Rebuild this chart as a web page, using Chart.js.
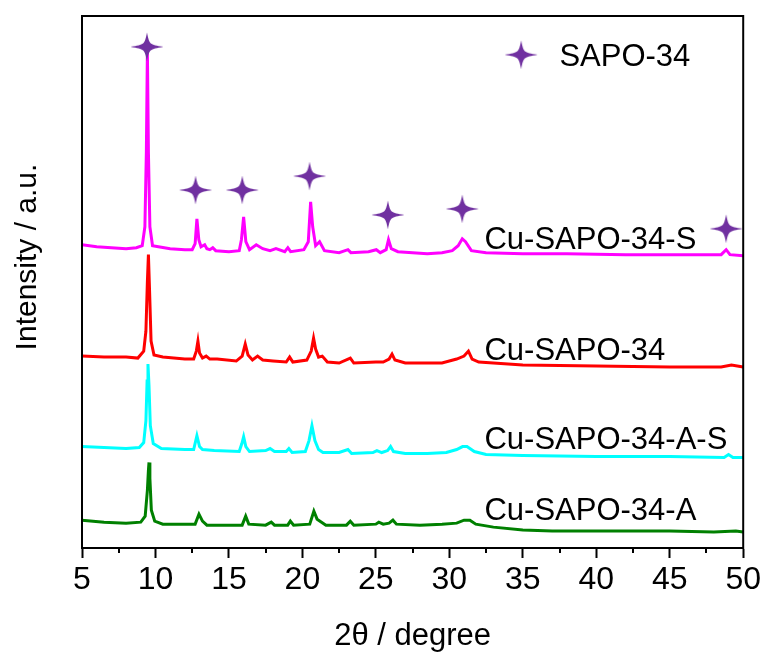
<!DOCTYPE html>
<html>
<head>
<meta charset="utf-8">
<script src="https://cdn.jsdelivr.net/npm/chart.js@4.4.1/dist/chart.umd.min.js"></script>
<style>
  html, body { margin: 0; padding: 0; background: #fff; }
  canvas { display: block; }
</style>
</head>
<body>
<canvas id="xrd" width="764" height="657"></canvas>
<script>
// XRD patterns, stacked with an offset (intensity in a.u.)
const seriesNames = ["Cu-SAPO-34-S", "Cu-SAPO-34", "Cu-SAPO-34-A-S", "Cu-SAPO-34-A"];
const seriesColors = ["#ff00ff", "#ff0000", "#00ffff", "#008000"];

const thetaS = [5, 6, 7, 8, 8.7, 9.1, 9.28, 9.38, 9.45, 9.52, 9.62, 9.8, 10.2, 11, 12, 12.5, 12.7, 12.82, 12.95, 13.1,
  13.35, 13.5, 13.7, 13.9, 14.1, 15, 15.7, 15.85, 16.0, 16.15, 16.4, 16.86, 17.3, 17.8, 18.2, 18.8, 19.01, 19.2, 20.1, 20.4,
  20.56, 20.7, 20.9, 21.17, 21.5, 22.5, 23.1, 23.3, 24.5, 25.03, 25.3, 25.7, 25.86, 26.05, 26.5, 27.5, 28.5, 29.5, 30.2, 30.6,
  30.88, 31.1, 31.5, 32.5, 35, 38, 42, 46, 48.5, 48.84, 49.1, 50];
const intensityS = [305, 303, 302, 301, 302, 304, 323, 398, 500, 398, 323, 304, 303, 301, 300, 300, 306, 331, 310, 303,
  305, 301, 300, 302, 299, 298, 299, 310, 333, 308, 300, 305, 301, 299, 301, 298, 302, 298, 300, 308,
  348, 323, 304, 308, 299, 297, 300, 297, 298, 300, 297, 300, 310, 301, 298, 297, 296, 297, 299, 304,
  311, 308, 299, 297, 296, 296, 295, 295, 295, 300, 295, 294];

const theta = [5, 6.5, 8, 8.8, 9.2, 9.35, 9.45, 9.52, 9.6, 9.7, 9.9, 10.5, 12, 12.6, 12.78, 12.89, 13.0, 13.2, 13.45, 13.7,
  14.2, 15.5, 15.9, 16.11, 16.3, 16.6, 16.95, 17.3, 18, 18.9, 19.13, 19.35, 20.3, 20.6, 20.76, 20.9, 21.1, 21.35, 21.7, 22.5,
  23.26, 23.5, 25, 25.5, 25.9, 26.1, 26.3, 27, 28.5, 29.5, 30.5, 31.0, 31.3, 31.55, 32, 33, 35, 40, 45, 48.5, 49.2, 50];
const intensity = [193, 192, 192, 191, 198, 218, 268, 295, 258, 208, 194, 192, 190, 190, 198, 208, 196, 191, 193, 190,
  190, 188, 193, 205, 194, 189, 193, 189, 188, 187, 192, 187, 189, 198, 211, 200, 192, 193, 187, 186,
  191, 186, 187, 187, 190, 195, 189, 186, 186, 186, 190, 193, 198, 190, 187, 186, 184, 183, 182, 182, 184, 182];

const thetaAS = [5, 6.5, 8, 8.9, 9.2, 9.35, 9.43, 9.49, 9.56, 9.65, 9.85, 10.4, 12, 12.6, 12.82, 13.0, 13.2, 14, 15.7, 15.88,
  16.0, 16.15, 16.4, 17.5, 17.8, 18.1, 18.9, 19.08, 19.3, 20.2, 20.45, 20.65, 20.85, 21.1, 21.4, 22.5, 23.1, 23.35, 24.8, 25.07,
  25.4, 25.8, 26.0, 26.2, 27, 28.5, 29.8, 30.5, 30.9, 31.2, 31.7, 32.5, 35, 40, 45, 48.7, 49.0, 49.3, 50];
const intensityAS = [102, 101, 100, 101, 106, 128, 168, 185, 163, 123, 105, 100, 99, 99, 113, 102, 99, 98, 97, 105,
  112, 102, 97, 98, 100, 97, 97, 100, 96, 97, 108, 123, 108, 99, 96, 96, 99, 95, 96, 98,
  96, 98, 102, 97, 95, 95, 96, 99, 102, 102, 97, 94, 93, 92, 92, 91, 94, 91, 91];

const thetaA = [5, 6.5, 8, 9.0, 9.3, 9.45, 9.52, 9.56, 9.62, 9.72, 9.95, 10.5, 12, 12.7, 12.96, 13.2, 13.5, 15.9, 16.14, 16.35,
  17.5, 17.88, 18.1, 19.0, 19.18, 19.4, 20.5, 20.78, 21.0, 21.3, 21.6, 23.0, 23.26, 23.5, 25.0, 25.2, 25.5, 25.9, 26.16, 26.4,
  28, 29.5, 30.5, 31.0, 31.4, 31.8, 33, 35, 37, 40, 45, 48, 49.5, 50];
const intensityA = [28, 26, 25, 26, 32, 58, 78, 86, 70, 38, 27, 24, 24, 24, 34, 27, 23, 23, 32, 24,
  23, 26, 23, 23, 27, 23, 24, 37, 29, 26, 23, 23, 27, 23, 24, 26, 24, 25, 28, 24,
  23, 24, 25, 28, 28, 24, 21, 18, 17, 17, 17, 16, 17, 16];

// SAPO-34 reflection markers
const starTheta = [9.42, 12.73, 15.91, 20.49, 25.82, 30.88, 48.84];
const starIntensity = [504, 360, 360, 374, 335, 341, 321];
const legendName = "SAPO-34";
const legendTheta = [34.89];
const legendIntensity = [496];

const xTicks = [5, 10, 15, 20, 25, 30, 35, 40, 45, 50];
const xMinorTicks = [7.5, 12.5, 17.5, 22.5, 27.5, 32.5, 37.5, 42.5, 47.5];

const FONT = "'Liberation Sans', Arial, sans-serif";
const STAR_COLOR = "#7030a0";

function toPoints(xs, ys) {
  return xs.map((x, i) => ({ x: x, y: ys[i] }));
}

// four-pointed star used as point style
function makeStar(w, h) {
  const c = document.createElement("canvas");
  c.width = w;
  c.height = h;
  const g = c.getContext("2d");
  const cx = w / 2, cy = h / 2;
  const k = 2.4;
  g.fillStyle = STAR_COLOR;
  g.beginPath();
  g.moveTo(cx, 0.5);
  g.bezierCurveTo(cx + k, cy - k, cx + k, cy - k, w - 0.5, cy);
  g.bezierCurveTo(cx + k, cy + k, cx + k, cy + k, cx, h - 0.5);
  g.bezierCurveTo(cx - k, cy + k, cx - k, cy + k, 0.5, cy);
  g.bezierCurveTo(cx - k, cy - k, cx - k, cy - k, cx, 0.5);
  g.closePath();
  g.fill();
  return c;
}
const starImg = makeStar(34, 30);

// label positions (data coords: 2theta, text baseline)
const labelTheta = 32.39;
const labelBase = [301, 189, 100, 28];

const extras = {
  id: "extras",
  afterDraw(chart) {
    const { ctx, chartArea: a, scales: { x, y } } = chart;
    ctx.save();
    // frame on top and right
    ctx.strokeStyle = "#000";
    ctx.lineWidth = 2;
    ctx.strokeRect(a.left, a.top, a.right - a.left, a.bottom - a.top);
    // minor ticks
    ctx.beginPath();
    xMinorTicks.forEach(v => {
      const px = Math.round(x.getPixelForValue(v));
      ctx.moveTo(px, a.bottom);
      ctx.lineTo(px, a.bottom + 5);
    });
    ctx.stroke();
    // sample labels
    ctx.fillStyle = "#000";
    ctx.font = "31px " + FONT;
    ctx.textAlign = "left";
    ctx.textBaseline = "alphabetic";
    seriesNames.forEach((name, i) => {
      ctx.fillText(name, x.getPixelForValue(labelTheta), y.getPixelForValue(labelBase[i]));
    });
    ctx.fillText(legendName, x.getPixelForValue(37.49), y.getPixelForValue(485));
    // y axis title
    ctx.translate(28, 257);
    ctx.rotate(-Math.PI / 2);
    ctx.textAlign = "center";
    ctx.textBaseline = "middle";
    ctx.font = "30px " + FONT;
    ctx.fillText("Intensity / a.u.", 0, 0);
    ctx.restore();
  }
};

const patterns = [
  toPoints(thetaS, intensityS),
  toPoints(theta, intensity),
  toPoints(thetaAS, intensityAS),
  toPoints(thetaA, intensityA)
];

const datasets = patterns.map((pts, i) => ({
  type: "line",
  label: seriesNames[i],
  data: pts,
  borderColor: seriesColors[i],
  borderWidth: 3,
  pointRadius: 0,
  tension: 0,
  order: 2
}));
datasets.push({
  type: "scatter",
  label: legendName,
  data: toPoints(starTheta, starIntensity).concat(toPoints(legendTheta, legendIntensity)),
  pointStyle: starImg,
  pointRadius: 15,
  order: 1
});

new Chart(document.getElementById("xrd"), {
  type: "line",
  data: { datasets: datasets },
  options: {
    responsive: false,
    animation: false,
    devicePixelRatio: 1,
    layout: { padding: { top: 13, right: 20, left: 0, bottom: 0 } },
    plugins: {
      legend: { display: false },
      tooltip: { enabled: false }
    },
    scales: {
      x: {
        type: "linear",
        min: 5,
        max: 50,
        afterBuildTicks: scale => {
          scale.ticks = xTicks.map(v => ({ value: v }));
        },
        afterFit: scale => { scale.height = 109; },
        ticks: {
          color: "#000",
          font: { family: FONT, size: 32 },
          padding: 3,
          maxRotation: 0,
          autoSkip: false
        },
        grid: {
          drawOnChartArea: false,
          tickLength: 10,
          tickWidth: 2,
          tickColor: "#000"
        },
        border: { display: true, color: "#000", width: 2 },
        title: {
          display: true,
          text: "2θ / degree",
          color: "#000",
          font: { family: FONT, size: 31 },
          padding: { top: 0, bottom: 2 }
        }
      },
      y: {
        type: "linear",
        min: 0,
        max: 535,
        afterFit: scale => { scale.width = 82; },
        ticks: { display: false },
        grid: { display: false, drawOnChartArea: false },
        border: { display: true, color: "#000", width: 2 }
      }
    }
  },
  plugins: [extras]
});
</script>
</body>
</html>
